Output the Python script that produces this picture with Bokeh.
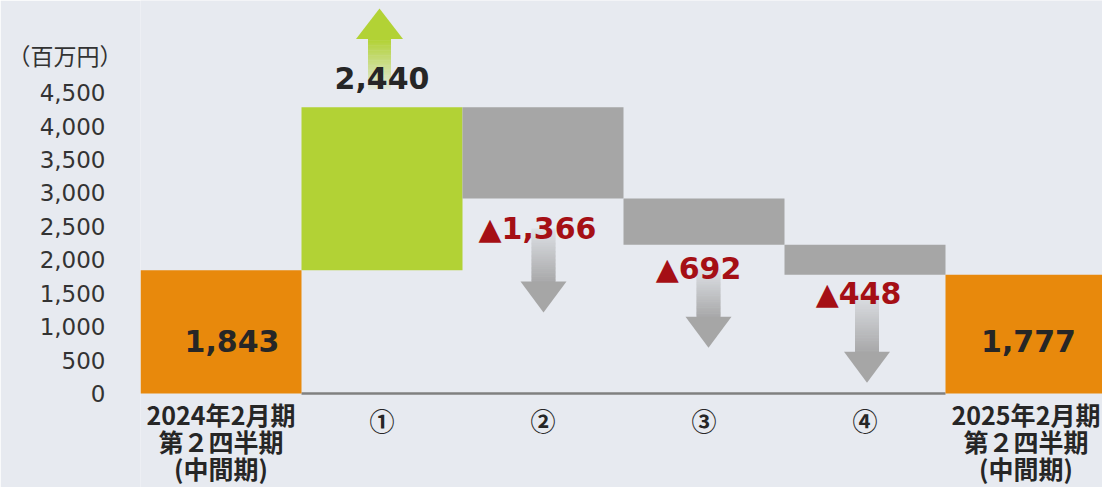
import numpy as np
from bokeh.plotting import figure
from bokeh.models import Range1d, FixedTicker, LinearAxis, NumeralTickFormatter
from bokeh.core.properties import value
from bokeh.embed import file_html
from bokeh.resources import INLINE

# ---------------- data ----------------
categories = ["2024年2月期\n第２四半期\n(中間期)", "①", "②", "③", "④",
              "2025年2月期\n第２四半期\n(中間期)"]
start_value = 1843
changes = [2440, -1366, -692, -448]
end_value = 1777
bar_labels = ["1,843", "2,440", "▲1,366", "▲692", "▲448", "1,777"]
y_ticks = [0, 500, 1000, 1500, 2000, 2500, 3000, 3500, 4000, 4500]
unit_label = "（百万円）"

# ---------------- layout / style ----------------
W, H = 1102, 487
LEFT = 140
ZERO_PX = 393            # canvas row of value 0
FW = W - LEFT
CAT_PX = 161.0
Y_PX = 0.06684           # px per unit
x_end = FW / CAT_PX

def px_x(n):
    return n / CAT_PX

def px_y(n):
    return n / Y_PX

y_start = -px_y(H - ZERO_PX)
y_end = px_y(ZERO_PX)

BG = "#e7eaf0"
ORANGE = "#e8890c"
GREEN = "#b2d235"
GRAY = "#a6a6a6"
RED = "#a50f15"
DARK = "#262626"

def mix(c1, c2, t):
    a = [int(c1[i:i + 2], 16) for i in (1, 3, 5)]
    b = [int(c2[i:i + 2], 16) for i in (1, 3, 5)]
    return "#%02x%02x%02x" % tuple(int(round(a[k] + (b[k] - a[k]) * t)) for k in range(3))

p = figure(width=W, height=H, output_backend="svg", toolbar_location=None,
           x_range=Range1d(0, x_end), y_range=Range1d(y_start, y_end),
           min_border_left=LEFT, min_border_right=0, min_border_top=0,
           min_border_bottom=0)
p.background_fill_color = BG
p.border_fill_color = BG
p.outline_line_color = None
p.grid.visible = False
p.xaxis.visible = False

# baseline
p.segment(x0=[1], y0=[0], x1=[5], y1=[0], line_color="#808080", line_width=2.5)

# waterfall bars
n = len(categories)
bottoms, tops = [0], [start_value]
level = start_value
for c in changes:
    new = level + c
    bottoms.append(min(level, new)); tops.append(max(level, new))
    level = new
bottoms.append(0); tops.append(end_value)
colors = [ORANGE, GREEN, GRAY, GRAY, GRAY, ORANGE]
lefts = np.arange(n)
p.quad(left=lefts, right=lefts + 1, bottom=bottoms, top=tops,
       fill_color=colors, line_color=None)

# ---------------- arrows ----------------
def shaft(xc, y_top, y_bot, half, c_top, c_bot, steps=40):
    ys = np.linspace(y_top, y_bot, steps + 1)
    cols = [mix(c_top, c_bot, t) for t in np.linspace(0, 1, steps)]
    ov = px_y(0.6) * np.sign(y_top - y_bot)
    p.quad(left=[xc - px_x(half)] * steps, right=[xc + px_x(half)] * steps,
           top=ys[:-1], bottom=ys[1:] - ov, fill_color=cols, line_color=None)

# green up arrow above the increase bar
gx = 1.5 - px_x(2.5)
g_apex = y_end - px_y(8)
g_base = g_apex - px_y(30.5)
g_bot = g_base - px_y(50)
shaft(gx, g_base, g_bot, 11.5, GREEN, mix(BG, GREEN, 0.12))
p.patch([gx - px_x(23.5), gx, gx + px_x(23.5)], [g_base, g_apex, g_base],
        fill_color=GREEN, line_color=None)

# label offsets (px) and gray down-arrow styles (x offset px, length px)
label_off = [(11, 53), (0, 29), (-5.5, 30), (-5.5, 24), (-6.5, 19), (2.5, 53)]
down_style = [(0.5, 84), (4.5, 79), (2.0, 89)]

for k, (dx, length) in enumerate(down_style):
    i = k + 2
    xc = i + 0.5 + px_x(dx)
    y_top = bottoms[i] - px_y(label_off[i][1])
    apex = y_top - px_y(length)
    base = apex + px_y(31)
    shaft(xc, y_top, base, 12, mix(BG, GRAY, 0.15), mix(BG, GRAY, 0.95))
    p.patch([xc - px_x(23), xc, xc + px_x(23)], [base, apex, base],
            fill_color=GRAY, line_color=None)

# ---------------- value labels ----------------
lx, ly, lc = [], [], []
for i in range(n):
    dx, dy = label_off[i]
    lx.append(i + 0.5 + px_x(dx))
    if i in (0, n - 1):
        ly.append(px_y(dy))
    elif changes[i - 1] > 0:
        ly.append(tops[i] + px_y(dy))
    else:
        ly.append(bottoms[i] - px_y(dy))
    lc.append(RED if (0 < i < n - 1 and changes[i - 1] < 0) else DARK)

p.text(x=lx, y=ly, text=bar_labels, text_color=lc,
       text_font=value("DejaVu Sans"), text_font_style="bold",
       text_font_size="30px", text_align="center", text_baseline="middle")

# ---------------- category labels (below the baseline) ----------------
LINE_PX = 26
FIRST_MULTI_PX = 21      # px from baseline to centre of first line (multi-line)
FIRST_SINGLE_PX = 26     # px from baseline to centre of single-line labels
cx = [i + 0.5 for i in range(n)]
cy = []
for c in categories:
    nl = c.count("\n")
    first = FIRST_MULTI_PX if nl else FIRST_SINGLE_PX
    cy.append(-px_y(first + nl * LINE_PX / 2))
p.text(x=cx, y=cy, text=categories, text_color=DARK,
       text_font=value("Noto Sans CJK JP"), text_font_style="bold",
       text_font_size="25px", text_align="center", text_baseline="middle",
       text_line_height=0.75)

# ---------------- y axis ----------------
yax = p.yaxis[0]
yax.ticker = FixedTicker(ticks=y_ticks)
yax.formatter = NumeralTickFormatter(format="0,0")
yax.axis_line_color = None
yax.major_tick_line_color = None
yax.minor_tick_line_color = None
yax.major_tick_out = 0
yax.major_tick_in = 0
yax.major_label_standoff = 35
yax.major_label_text_font = "DejaVu Sans"
yax.major_label_text_font_size = "23px"
yax.major_label_text_color = "#333333"

# unit axis (only the unit label, placed above the numbers)
unit_y = round(px_y(ZERO_PX - 55))
uax = LinearAxis(ticker=FixedTicker(ticks=[unit_y]),
                 major_label_overrides={unit_y: unit_label},
                 axis_line_color=None, major_tick_line_color=None,
                 minor_tick_line_color=None, major_tick_out=0, major_tick_in=0,
                 major_label_standoff=-86,
                 major_label_text_font="Noto Sans CJK JP",
                 major_label_text_font_size="23px",
                 major_label_text_color="#333333")
p.add_layout(uax, "left")

open("out.html", "w").write(file_html(p, INLINE))
